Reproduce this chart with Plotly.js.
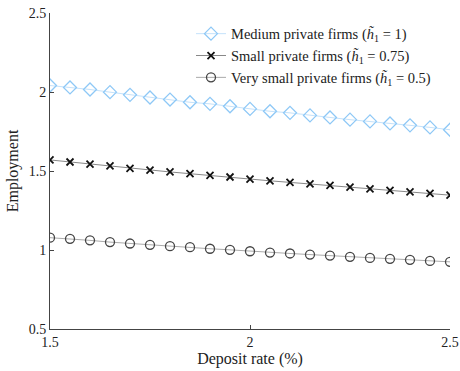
<!DOCTYPE html>
<html>
<head>
<meta charset="utf-8">
<script src="https://cdn.plot.ly/plotly-3.0.1.min.js"></script>
<style>html,body{margin:0;padding:0;background:#fff;}#chart{width:460px;height:371px;}</style>
</head>
<body>
<div id="chart"></div>
<script>
const depositRate = [1.5,1.55,1.6,1.65,1.7,1.75,1.8,1.85,1.9,1.95,2.0,2.05,2.1,2.15,2.2,2.25,2.3,2.35,2.4,2.45,2.5];
const mediumFirms = [2.041,2.029,2.016,1.999,1.982,1.965,1.952,1.935,1.925,1.910,1.893,1.878,1.868,1.852,1.839,1.825,1.814,1.801,1.789,1.776,1.761];
const smallFirms = [1.570,1.557,1.543,1.532,1.517,1.506,1.494,1.483,1.473,1.462,1.449,1.438,1.428,1.419,1.409,1.398,1.387,1.377,1.368,1.358,1.347];
const verySmallFirms = [1.078,1.071,1.061,1.050,1.041,1.033,1.024,1.018,1.008,1.001,0.992,0.984,0.978,0.971,0.965,0.957,0.950,0.944,0.938,0.931,0.925];
const seriesNames = [
  "Medium private firms (<i>h̃</i><sub>1</sub> = 1)",
  "Small private firms (<i>h̃</i><sub>1</sub> = 0.75)",
  "Very small private firms (<i>h̃</i><sub>1</sub> = 0.5)"
];
const xTicks = [1.5, 2, 2.5];
const yTicks = [0.5, 1, 1.5, 2, 2.5];

const font = "Liberation Serif, Times New Roman, serif";
const traces = [
  {x: depositRate, y: mediumFirms, name: seriesNames[0], mode: "lines+markers",
   line: {color: "#c4e2fb", width: 1},
   marker: {symbol: "diamond-open", size: 10, color: "#8ec8f6", line: {width: 1.3}}},
  {x: depositRate, y: smallFirms, name: seriesNames[1], mode: "lines+markers",
   line: {color: "#888888", width: 1},
   marker: {symbol: "x-thin-open", size: 7, color: "#111111", line: {width: 1.8, color: "#111111"}}},
  {x: depositRate, y: verySmallFirms, name: seriesNames[2], mode: "lines+markers",
   line: {color: "#aaaaaa", width: 1},
   marker: {symbol: "circle-open", size: 9, color: "#444444", line: {width: 1.3}}}
];
const layout = {
  width: 460, height: 371,
  margin: {l: 50, r: 10, t: 13, b: 42},
  paper_bgcolor: "#fff", plot_bgcolor: "#fff",
  font: {family: font, size: 14, color: "#222"},
  showlegend: true,
  legend: {x: 0.965, xanchor: "right", y: 0.985, yanchor: "top", bgcolor: "rgba(0,0,0,0)",
           font: {family: font, size: 14.5, color: "#222"}, tracegroupgap: 0, itemwidth: 30},
  xaxis: {range: [1.5, 2.5], tickvals: xTicks, ticktext: xTicks.map(String),
          showgrid: false, zeroline: false, showline: true, linecolor: "#444", linewidth: 1,
          ticks: "inside", ticklen: 4, tickcolor: "#444",
          tickfont: {family: font, size: 14, color: "#222"},
          title: {text: "Deposit rate (%)", font: {family: font, size: 16, color: "#222"}, standoff: 4}},
  yaxis: {range: [0.5, 2.5], tickvals: yTicks, ticktext: yTicks.map(String),
          showgrid: false, zeroline: false, showline: true, linecolor: "#444", linewidth: 1,
          ticks: "inside", ticklen: 4, tickcolor: "#444",
          tickfont: {family: font, size: 14, color: "#222"},
          title: {text: "Employment", font: {family: font, size: 16, color: "#222"}, standoff: 6}}
};
Plotly.newPlot("chart", traces, layout, {displayModeBar: false, staticPlot: true});
</script>
</body>
</html>
